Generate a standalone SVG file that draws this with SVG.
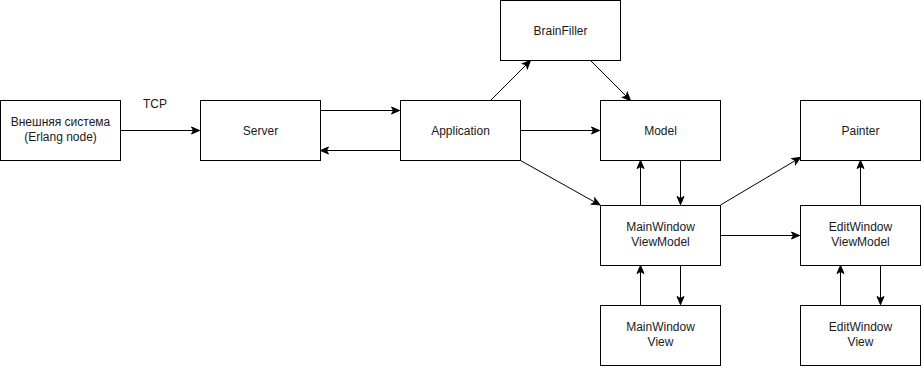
<svg xmlns="http://www.w3.org/2000/svg" width="921" height="366" viewBox="0 0 921 366">
  <style>
    .box { fill: #ffffff; stroke: #000000; stroke-width: 1; }
    .lbl { font-family: "Liberation Sans", Arial, sans-serif; font-size: 12px; fill: #1a1a1a; text-anchor: middle; }
    .edge { fill: none; stroke: #000000; stroke-width: 1; marker-end: url(#arrow); }
  </style>
  <defs>
    <marker id="arrow" markerUnits="userSpaceOnUse" markerWidth="10" markerHeight="10" viewBox="0 0 10 10" refX="9" refY="5" orient="auto">
      <path d="M1,1.5 L9,5 L1,8.5 L3,5 Z" fill="#000000" stroke="#000000" stroke-width="1"/>
    </marker>
  </defs>
  <rect width="921" height="366" fill="#ffffff"/>

  <g id="connectors">
    <path class="edge" d="M120.5,130.5 L199.5,130.5"/>
    <path class="edge" d="M320.5,110.5 L399.5,110.5"/>
    <path class="edge" d="M400.5,150.5 L320.5,150.5"/>
    <path class="edge" d="M490.5,100.5 L530.5,60.5"/>
    <path class="edge" d="M590.5,60.5 L630.5,100.5"/>
    <path class="edge" d="M520.5,130.5 L599.5,130.5"/>
    <path class="edge" d="M520.5,160.5 L600,205"/>
    <path class="edge" d="M640.5,205.5 L640.5,160.5"/>
    <path class="edge" d="M680.5,160.5 L680.5,204.5"/>
    <path class="edge" d="M720.5,205 L800.5,157.5"/>
    <path class="edge" d="M720.5,235.5 L799.5,235.5"/>
    <path class="edge" d="M860.5,205.5 L860.5,160.5"/>
    <path class="edge" d="M640.5,305.5 L640.5,265.5"/>
    <path class="edge" d="M680.5,265.5 L680.5,304.5"/>
    <path class="edge" d="M840.5,305.5 L840.5,265.5"/>
    <path class="edge" d="M880.5,265.5 L880.5,304.5"/>
    <text class="lbl" x="155" y="108">TCP</text>
  </g>

  <g id="external">
    <rect class="box" x="0.5" y="100.5" width="120" height="60"/>
    <text class="lbl" x="60.5" y="126">Внешняя система</text>
    <text class="lbl" x="60.5" y="141">(Erlang node)</text>
  </g>
  <g id="server">
    <rect class="box" x="200.5" y="100.5" width="120" height="60"/>
    <text class="lbl" x="260.5" y="134.5">Server</text>
  </g>
  <g id="application">
    <rect class="box" x="400.5" y="100.5" width="120" height="60"/>
    <text class="lbl" x="460.5" y="134.5">Application</text>
  </g>
  <g id="brainfiller">
    <rect class="box" x="500.5" y="0.5" width="120" height="60"/>
    <text class="lbl" x="560.5" y="34.5">BrainFiller</text>
  </g>
  <g id="model">
    <rect class="box" x="600.5" y="100.5" width="120" height="60"/>
    <text class="lbl" x="660.5" y="134.5">Model</text>
  </g>
  <g id="painter">
    <rect class="box" x="800.5" y="100.5" width="120" height="60"/>
    <text class="lbl" x="860.5" y="134.5">Painter</text>
  </g>
  <g id="mainwindow-viewmodel">
    <rect class="box" x="600.5" y="205.5" width="120" height="60"/>
    <text class="lbl" x="660.5" y="231">MainWindow</text>
    <text class="lbl" x="660.5" y="246">ViewModel</text>
  </g>
  <g id="editwindow-viewmodel">
    <rect class="box" x="800.5" y="205.5" width="120" height="60"/>
    <text class="lbl" x="860.5" y="231">EditWindow</text>
    <text class="lbl" x="860.5" y="246">ViewModel</text>
  </g>
  <g id="mainwindow-view">
    <rect class="box" x="600.5" y="305.5" width="120" height="60"/>
    <text class="lbl" x="660.5" y="331">MainWindow</text>
    <text class="lbl" x="660.5" y="346">View</text>
  </g>
  <g id="editwindow-view">
    <rect class="box" x="800.5" y="305.5" width="120" height="60"/>
    <text class="lbl" x="860.5" y="331">EditWindow</text>
    <text class="lbl" x="860.5" y="346">View</text>
  </g>
</svg>
